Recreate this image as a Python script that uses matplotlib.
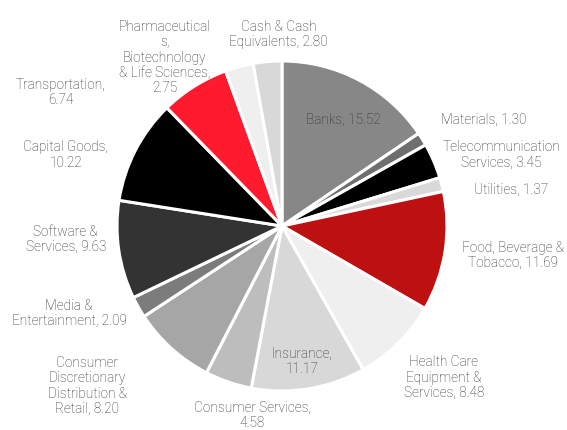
import matplotlib
matplotlib.use("Agg")
import matplotlib.pyplot as plt

labels = ["Banks", "Materials", "Telecommunication\nServices", "Utilities",
          "Food, Beverage &\nTobacco", "Health Care\nEquipment &\nServices",
          "Insurance,\n", "Consumer Services,\n", "Consumer\nDiscretionary\nDistribution &\nRetail",
          "Media &\nEntertainment", "Software &\nServices", "Capital Goods,\n",
          "Transportation,\n", "Pharmaceutical\ns,\nBiotechnology\n& Life Sciences,\n",
          "Cash & Cash\nEquivalents"]
values = [15.52, 1.30, 3.45, 1.37, 11.69, 8.48, 11.17, 4.58, 8.20, 2.09, 9.63,
          10.22, 6.74, 2.75, 2.80]
colors = ["#878787", "#6e6e6e", "#000000", "#d9d9d9", "#bd1111", "#efefef",
          "#d8d8d8", "#bdbdbd", "#a6a6a6", "#7c7c7c", "#333333", "#000000",
          "#ff1a2e", "#efefef", "#d8d8d8"]

# label centres, in pie radius units (placed like the original layout)
label_pos = [(0.37, 0.64), (1.22, 0.64), (1.33, 0.43), (1.39, 0.22), (1.40, -0.18),
             (0.98, -0.92), (0.12, -0.82), (-0.18, -1.15), (-1.18, -0.97),
             (-1.29, -0.53), (-1.31, -0.08), (-1.31, 0.43), (-1.34, 0.81),
             (-0.71, 1.02), (-0.02, 1.16)]

plt.rcParams['font.family'] = ['Roboto', 'DejaVu Sans']

fig = plt.figure(figsize=(5.67, 4.30), dpi=100)
r = 165
ax = fig.add_axes([(282 - r) / 567, (430 - 226 - r) / 430, 2 * r / 567, 2 * r / 430])

ax.pie(values, colors=colors, startangle=90, counterclock=False, radius=1,
       wedgeprops=dict(edgecolor="white", linewidth=2.2))
ax.set_xlim(-1, 1)
ax.set_ylim(-1, 1)
ax.set_aspect("equal")
ax.axis("off")

for lab, v, (x, y) in zip(labels, values, label_pos):
    if lab.endswith("\n"):
        txt = lab + f"{v:.2f}"
    else:
        txt = lab + f", {v:.2f}"
    ax.text(x, y, txt, ha="center", va="center", fontsize=9.8, color="#2e2e2e",
            linespacing=1.12, fontweight="light")

fig.savefig("out.png", dpi=100)
